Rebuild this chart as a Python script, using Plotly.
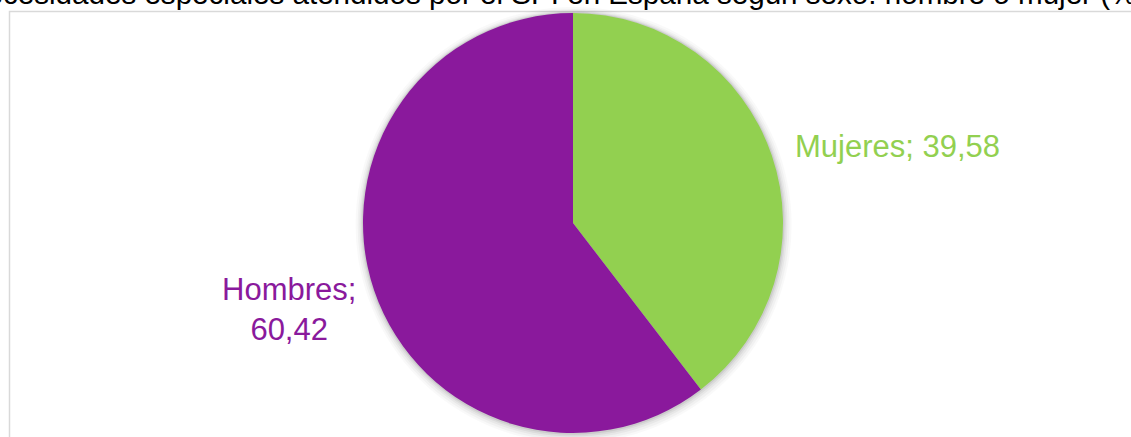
import plotly.graph_objects as go

# Data
categories = ["Mujeres", "Hombres"]
values = [39.58, 60.42]
value_labels = ["39,58", "60,42"]
colors = ["#92D050", "#8A199C"]
title_text = "necesidades especiales atendidos por el SPI en España según sexo: hombre o mujer (%)"

W, H = 1131, 470  # figure slightly taller than the 437px viewport (bottom is cut, as in reference)
cx, cy, r = 573, 223, 210  # pixel geometry of the pie (from top-left)


def px_dom(cx, cy, r):
    return dict(x=[(cx - r) / W, (cx + r) / W], y=[(H - (cy + r)) / H, (H - (cy - r)) / H])


fig = go.Figure()

# soft shadow layers
for i, (dr, off, a) in enumerate([(8, 2, 0.025), (6, 2, 0.03), (4, 1.5, 0.04), (2.5, 1, 0.05), (1.2, 0.5, 0.07)]):
    fig.add_trace(go.Pie(
        values=[1], labels=["s%d" % i], marker=dict(colors=["rgba(0,0,0,%s)" % a], line=dict(width=0)),
        domain=px_dom(cx + off * 0.3, cy + off, r + dr), textinfo="none", hoverinfo="skip",
        showlegend=False, sort=False,
    ))

fig.add_trace(go.Pie(
    labels=categories, values=values, sort=False, direction="clockwise", rotation=0,
    marker=dict(colors=colors, line=dict(width=0)),
    domain=px_dom(cx, cy, r), textinfo="none", showlegend=False,
))

ann = []
# title (clipped at top)
ann.append(dict(text=title_text, x=-32 / W, y=(H + 7) / H, xref="paper", yref="paper",
                xanchor="left", yanchor="middle", showarrow=False,
                font=dict(family="Liberation Sans, Arial", size=29.6, color="#000000")))
# slice labels
ann.append(dict(text=f"{categories[0]}; {value_labels[0]}", x=(795 - 2) / W, y=(H - 147) / H,
                xref="paper", yref="paper", xanchor="left", yanchor="middle", showarrow=False,
                font=dict(family="Liberation Sans, Arial", size=31, color=colors[0])))
ann.append(dict(text=f"{categories[1]};<br>{value_labels[1]}", x=289 / W, y=(H - 309) / H,
                xref="paper", yref="paper", xanchor="center", yanchor="middle", showarrow=False,
                align="center",
                font=dict(family="Liberation Sans, Arial", size=31, color=colors[1])))

fig.update_layout(
    width=W, height=H, margin=dict(l=0, r=0, t=0, b=0),
    paper_bgcolor="white", plot_bgcolor="white",
    annotations=ann,
    shapes=[dict(type="rect", xref="paper", yref="paper",
                 x0=9.5 / W, x1=(W + 20) / W, y0=-20 / H, y1=(H - 11.5) / H,
                 line=dict(color="#D9D9D9", width=1.5), layer="below")],
)

fig.write_html("out.html",
               config={"displayModeBar": False},
               post_script="document.body.style.margin='0px';"
                           "document.body.style.overflow='hidden';"
                           "document.documentElement.style.overflow='hidden';")
